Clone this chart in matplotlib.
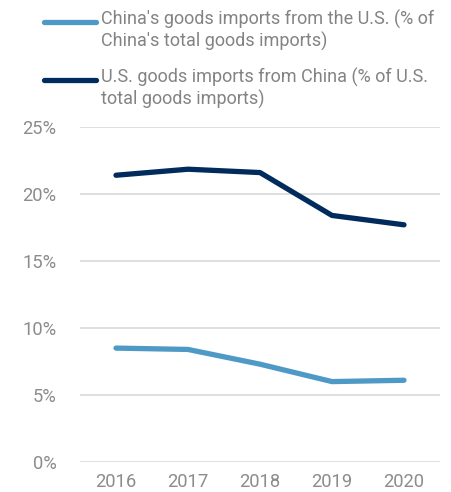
import matplotlib.pyplot as plt
from matplotlib.lines import Line2D

years = ['2016', '2017', '2018', '2019', '2020']
china_from_us = [8.5, 8.4, 7.3, 6.0, 6.1]     # % of China's total goods imports
us_from_china = [21.4, 21.85, 21.6, 18.4, 17.7]  # % of U.S. total goods imports
labels = ["China's goods imports from the U.S. (% of\nChina's total goods imports)",
          "U.S. goods imports from China (% of U.S.\ntotal goods imports)"]
colors = ['#4f99c6', '#002b5c']
yticks = [0, 5, 10, 15, 20, 25]

plt.rcParams['font.family'] = ['Roboto', 'DejaVu Sans']

fig = plt.figure(figsize=(4.51, 4.92), dpi=100)
ax = fig.add_axes([80/451, 1-462/492, 360/451, 335/492])

x = range(len(years))
ax.plot(x, china_from_us, color=colors[0], lw=3.8, solid_capstyle='round', solid_joinstyle='round')
ax.plot(x, us_from_china, color=colors[1], lw=3.8, solid_capstyle='round', solid_joinstyle='round')

ax.set_xlim(-0.5, 4.5)
ax.set_ylim(0, 25)
ax.set_yticks(yticks)
ax.set_yticklabels([f'{v}%' for v in yticks])
ax.set_xticks(list(x))
ax.set_xticklabels(years)
ax.grid(axis='y', color='#d9d9d9', lw=1.2)
ax.set_axisbelow(True)
for s in ax.spines.values():
    s.set_visible(False)
ax.tick_params(length=0, labelsize=13.2, colors='#8c8c8c')
ax.tick_params(axis='y', pad=17)
ax.tick_params(axis='x', pad=8)

# legend drawn by hand so the key sits on the first text line
for i, (lab, c) in enumerate(zip(labels, colors)):
    yy = 1 - (22 + 58*i)/492
    fig.add_artist(Line2D([44/451, 96/451], [yy, yy], color=c, lw=3.8,
                          solid_capstyle='round', transform=fig.transFigure))
    fig.text(101/451, yy + 12/492, lab, ha='left', va='top', fontsize=13.0,
             color='#838383', linespacing=1.2)

fig.savefig('out.png', dpi=100)
